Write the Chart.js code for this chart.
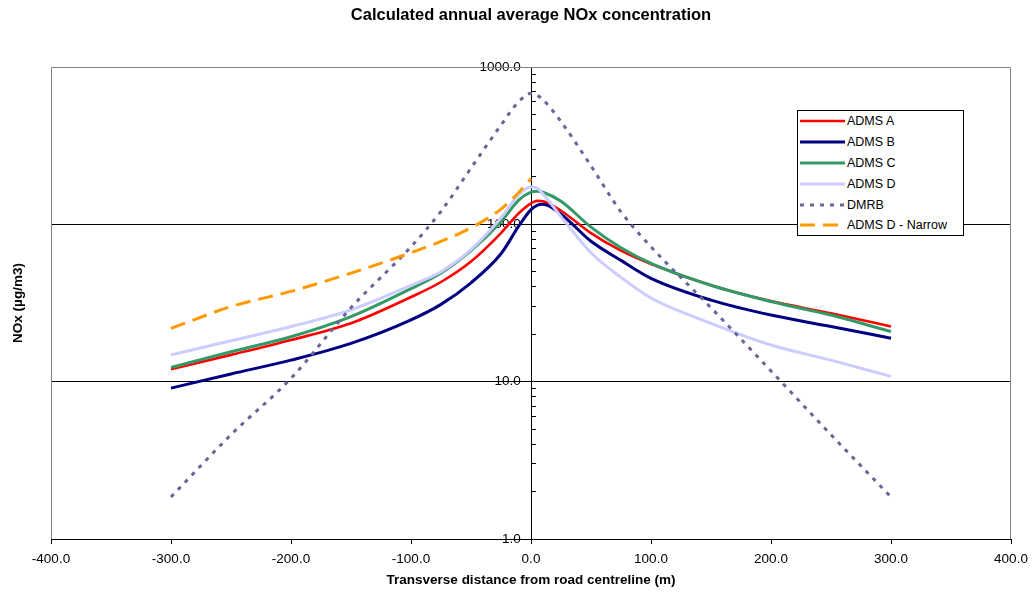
<!DOCTYPE html>
<html>
<head>
<meta charset="utf-8">
<script src="https://cdn.jsdelivr.net/npm/chart.js@4.4.1/dist/chart.umd.min.js"></script>
<style>
  body { margin: 0; background: #fff; }
  #wrap { position: relative; width: 1032px; height: 592px; }
  #legend {
    position: absolute; left: 797px; top: 110px; width: 167px; height: 126px;
    box-sizing: border-box; border: 1px solid #000; background: #fff;
    font: 12.5px "Liberation Sans", Arial, sans-serif; color: #000;
  }
  #legend .row { display: flex; align-items: center; height: 20.8px; }
  #legend svg { margin-left: 2px; margin-right: 2px; }
</style>
</head>
<body>
<div id="wrap">
  <canvas id="myChart" width="1032" height="592"></canvas>
  <div id="legend"></div>
</div>
<script>
// distance from road centreline (m)
const distances = [-300, -250, -200, -150, -100, -75, -50, -25, -10, 0, 5, 10, 25, 50, 75, 100, 150, 200, 250, 300];

// NOx (ug/m3)
const admsA = [12.0, 14.8, 18.4, 23.5, 34.5, 43, 58, 88, 118, 136, 141, 140, 122, 88, 68, 56, 41, 32.5, 27.2, 22.4];
const admsB = [9.1, 11.2, 13.7, 17.5, 24.7, 31, 42.5, 65, 98, 124, 132, 134, 116, 78, 59, 45.4, 33, 26.5, 22.4, 18.9];
const admsC = [12.3, 15.5, 19.3, 25.9, 39, 49, 68, 104, 143, 160, 162, 160, 140, 96, 71, 56.5, 41, 32.3, 26.5, 20.8];
const admsD = [14.8, 18.2, 22.4, 28.6, 41, 50, 69, 110, 155, 173, 170, 156, 112, 66, 46, 34, 23.5, 17.1, 13.7, 10.8];
const dmrb = [1.85, 4.6, 10.5, 29.5, 72, 121, 228, 427, 605, 680, 660, 620, 450, 235, 120, 72, 29.5, 11.7, 4.6, 1.85];
const admsDNarrow = [21.8, 30, 37.5, 49, 66, 78, 95, 125, 160, 195, null, null, null, null, null, null, null, null, null, null];

const seriesNames = ["ADMS A", "ADMS B", "ADMS C", "ADMS D", "DMRB", "ADMS D - Narrow"];
const seriesValues = [admsA, admsB, admsC, admsD, dmrb, admsDNarrow];
const seriesColors = ["#ff0000", "#000080", "#339966", "#ccccff", "#666699", "#ff9900"];
const seriesWidths = [2.6, 3, 3, 3, 3, 3];
const seriesDashes = [[], [], [], [], [4, 6], [15, 8]];

const xTicks = [-400, -300, -200, -100, 0, 100, 200, 300, 400];
const yTickLabels = [1, 10, 100, 1000];

const FONT = "'Liberation Sans', Arial, sans-serif";

const datasets = seriesNames.map((name, i) => ({
  label: name,
  data: distances
    .map((d, j) => ({ x: d, y: seriesValues[i][j] }))
    .filter((p) => p.y !== null),
  borderColor: seriesColors[i],
  backgroundColor: seriesColors[i],
  borderWidth: seriesWidths[i],
  borderDash: seriesDashes[i],
  pointRadius: 0,
  cubicInterpolationMode: "monotone",
  fill: false,
  xAxisID: "x",
  yAxisID: "y",
  order: seriesNames.length - i, // later series on top, like the original
}));

// grey frame round the plot area (bottom side is the x axis line)
const plotFrame = {
  id: "plotFrame",
  beforeDatasetsDraw(chart) {
    const { ctx, chartArea: a } = chart;
    ctx.save();
    ctx.strokeStyle = "#808080";
    ctx.lineWidth = 1;
    ctx.beginPath();
    ctx.moveTo(a.left + 0.5, a.bottom);
    ctx.lineTo(a.left + 0.5, a.top + 0.5);
    ctx.lineTo(a.right - 0.5, a.top + 0.5);
    ctx.lineTo(a.right - 0.5, a.bottom);
    ctx.stroke();
    ctx.restore();
  },
};

new Chart(document.getElementById("myChart"), {
  type: "line",
  data: { datasets },
  plugins: [plotFrame],
  options: {
    responsive: false,
    animation: false,
    layout: { padding: { right: 21 } },
    plugins: {
      legend: { display: false },
      tooltip: { enabled: false },
    },
    scales: {
      xTop: {
        axis: "x",
        type: "linear",
        position: "top",
        grid: { display: false },
        border: { display: false },
        ticks: { display: false },
        title: {
          display: true,
          text: "Calculated annual average NOx concentration",
          color: "#000",
          font: { family: FONT, size: 16.5, weight: "bold" },
          padding: { top: 6, bottom: 0 },
        },
        afterFit: (s) => { s.height = 67; },
      },
      yTitle: {
        axis: "y",
        type: "linear",
        position: "left",
        grid: { display: false },
        border: { display: false },
        ticks: { display: false },
        title: {
          display: true,
          text: "NOx (µg/m3)",
          color: "#000",
          font: { family: FONT, size: 13.5, weight: "bold" },
          padding: { top: 10, bottom: 0 },
        },
        afterFit: (s) => { s.width = 51; },
      },
      x: {
        type: "linear",
        position: "bottom",
        min: -400,
        max: 400,
        afterBuildTicks: (s) => { s.ticks = xTicks.map((v) => ({ value: v })); },
        ticks: {
          color: "#000",
          font: { family: FONT, size: 13.5 },
          padding: 7,
          maxRotation: 0,
          callback: (v) => v.toFixed(1),
        },
        grid: { drawOnChartArea: false, drawTicks: true, tickLength: 5, tickColor: "#000" },
        border: { color: "#000", width: 1 },
        title: {
          display: true,
          text: "Transverse distance from road centreline (m)",
          color: "#000",
          font: { family: FONT, size: 13.5, weight: "bold" },
          padding: { top: 0, bottom: 4 },
        },
        afterFit: (s) => {
          s.height = 53;
          s.paddingLeft = 0;
          s.paddingRight = 21;
        },
      },
      y: {
        type: "logarithmic",
        position: { x: 0 },
        min: 1,
        max: 1000,
        afterBuildTicks: (s) => {
          const t = [];
          for (let d = 1; d < 1000; d *= 10) {
            for (let m = 1; m < 10; m++) t.push({ value: m * d });
          }
          t.push({ value: 1000 });
          s.ticks = t;
        },
        ticks: {
          autoSkip: false,
          color: "#000",
          font: { family: FONT, size: 13.5 },
          // trailing spaces keep the label clear of the axis line
          callback: (v) => (yTickLabels.includes(v) ? v.toFixed(1) + "  \u2009" : ""),
        },
        grid: {
          color: (c) => (c.tick && (c.tick.value === 10 || c.tick.value === 100) ? "#000" : "rgba(0,0,0,0)"),
          lineWidth: 1,
          drawTicks: true,
          tickLength: -5,
          tickColor: "#000",
        },
        border: { color: "#000", width: 1 },
      },
    },
  },
});

// legend box inside the plot, like the original
const legend = document.getElementById("legend");
seriesNames.forEach((name, i) => {
  const row = document.createElement("div");
  row.className = "row";
  const dash = seriesDashes[i].length ? `stroke-dasharray="${seriesDashes[i].join(",")}"` : "";
  row.innerHTML =
    `<svg width="45" height="6"><line x1="0" y1="3" x2="45" y2="3" stroke="${seriesColors[i]}" stroke-width="${seriesWidths[i]}" ${dash}/></svg>` +
    `<span>${name}</span>`;
  legend.appendChild(row);
});
</script>
</body>
</html>
